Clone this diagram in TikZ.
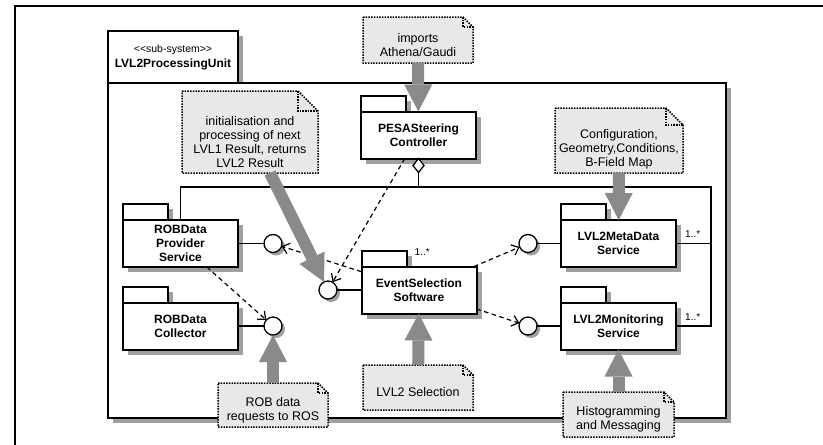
\documentclass[tikz,border=0pt]{standalone}
\usepackage{fontspec}
\setmainfont{Liberation Sans}
\usepackage{xcolor}
\usepackage{tikz}
\usetikzlibrary{arrows.meta,positioning,calc,shapes.geometric,shadows,backgrounds}

\definecolor{shgray}{HTML}{A0A0A0}
\definecolor{notegray}{HTML}{E8E8E8}
\definecolor{arrgray}{HTML}{8A8A8A}

% note with folded corner: name, fold, left, top, right, bottom, text
\newcommand{\umlnote}[7]{%
  \fill[notegray] (#3,#4) -- (#5-#2,#4) -- (#5,#4+#2) -- (#5,#6) -- (#3,#6) -- cycle;
  \draw[notedots] (#3,#4) -- (#5-#2,#4) -- (#5,#4+#2) -- (#5,#6) -- (#3,#6) -- cycle;
  \draw[notedots] (#5-#2,#4) -- (#5-#2,#4+#2) -- (#5,#4+#2);
  \node[minimum width={(#5-#3)*1pt},minimum height={(#6-#4)*1pt},inner sep=0pt,outer sep=0pt] (#1) at ({(#3+#5)/2},{(#4+#6)/2}) {};
  \node[notetext] at ($(#1.center)+(0,{#2/2})$) {#7};
}

\begin{document}
\begin{tikzpicture}[x=1pt,y=-1pt,>=Stealth]
\tikzstyle{pkg}=[draw,line width=2pt,fill=white,minimum width=115pt,minimum height=47pt,inner sep=0pt,outer sep=0pt,align=center,font=\bfseries\fontsize{12}{14}\selectfont,general shadow={fill=shgray,shadow xshift=5pt,shadow yshift=-5pt}]
\tikzstyle{pkgtab}=[draw,line width=2pt,fill=white,minimum width=45pt,minimum height=16pt,inner sep=0pt,outer sep=0pt,anchor=south west,general shadow={fill=shgray,shadow xshift=5pt,shadow yshift=-5pt}]
\tikzstyle{iface}=[circle,draw,line width=1.3pt,fill=white,minimum size=18pt,inner sep=0pt,outer sep=0pt,general shadow={fill=shgray,shadow xshift=3pt,shadow yshift=-3pt}]
\tikzstyle{agg}=[diamond,draw,line width=1.3pt,fill=white,minimum width=11pt,minimum height=14pt,inner sep=0pt,outer sep=0pt]
\tikzstyle{link}=[line width=1.3pt]
\tikzstyle{dep}=[line width=1.2pt,dash pattern=on 4.5pt off 3.5pt,-{Straight Barb[length=6.5pt,width=11pt]}]
\tikzstyle{feed}=[line width=12pt,draw=arrgray,-{Triangle[length=27pt,width=28pt,line width=0pt]}]
\tikzstyle{notedots}=[line width=1.5pt,dash pattern=on 1.5pt off 1.2pt]
\tikzstyle{notetext}=[inner sep=0pt,align=center,font=\fontsize{12.5}{13.8}\selectfont]
\tikzstyle{mult}=[inner sep=1pt,font=\fontsize{10}{12}\selectfont]
\useasboundingbox (0,0) rectangle (823,445);

% sub-system frame
\begin{scope}[on background layer]
\node[draw,line width=2pt,fill=white,minimum width=130pt,minimum height=52pt,inner sep=0pt,outer sep=0pt,align=center,font=\fontsize{12}{15}\selectfont,general shadow={fill=shgray,shadow xshift=5pt,shadow yshift=-5pt}] (systab) at (173,57) {{\fontsize{10.5}{15}\selectfont <\kern0pt<sub-system>\kern0pt>}\\\textbf{LVL2ProcessingUnit}};
\node[draw,line width=2pt,fill=white,minimum width=618pt,minimum height=335pt,inner sep=0pt,outer sep=0pt,general shadow={fill=shgray,shadow xshift=5pt,shadow yshift=-5pt}] (sys) at (417,250.5) {};
\end{scope}
\draw[line width=1.2pt] (15,445) -- (15,6) -- (823,6);

% packages
\node[pkg] (pesa) at (418.5,135) {PESASteering\\Controller};
\node[pkg] (robp) at (180.5,243.5) {ROBData\\Provider\\Service};
\node[pkg] (coll) at (180.5,326) {ROBData\\Collector};
\node[pkg] (evt) at (419,290) {EventSelection\\Software};
\node[pkg] (meta) at (618.5,243.5) {LVL2MetaData\\Service};
\node[pkg] (mon) at (618.5,326) {LVL2Monitoring\\Service};
\begin{scope}[on background layer]
\node[pkgtab] (pesatab) at (pesa.north west) {};
\node[pkgtab] (robptab) at (robp.north west) {};
\node[pkgtab] (colltab) at (coll.north west) {};
\node[pkgtab] (evttab) at (evt.north west) {};
\node[pkgtab] (metatab) at (meta.north west) {};
\node[pkgtab] (montab) at (mon.north west) {};
\end{scope}

% interfaces
\node[iface] (c1) at (273,243.5) {};
\node[iface] (c2) at (328,290) {};
\node[iface] (c3) at (528,243.5) {};
\node[iface] (c4) at (528,326) {};
\node[iface] (c5) at (273,326) {};
\draw[link] (robp) -- (c1);
\draw[link] (coll) -- (c5);
\draw[link] (c2) -- (evt);
\draw[link] (c3) -- (meta);
\draw[link] (c4) -- (mon);

% aggregation
\node[agg,anchor=north] (dia) at (pesa.south) {};
\coordinate (busr) at (711,187);
\draw[link] (dia) -- (dia |- busr);
\draw[link] (robp) |- (busr) -- (busr |- mon) -- (mon);
\draw[link] (meta) -- (meta -| busr);
\node[mult,anchor=west] (m1) at ($(evttab.north east)+(7,2)$) {1..*};
\node[mult,anchor=west] (m2) at ($(meta.east)+(8,-9)$) {1..*};
\node[mult,anchor=west] (m3) at ($(mon.east)+(8,-9)$) {1..*};

% dependencies
\draw[dep] (pesa) -- (c2);
\draw[dep] (evt) -- (c1);
\draw[dep] (evt) -- (c3);
\draw[dep] (evt) -- (c4);
\draw[dep] (robp) -- (c5);

% notes
\umlnote{imp}{10}{363}{17}{473}{63}{imports\\Athena/Gaudi}
\umlnote{init}{20}{182}{91}{318}{173}{initialisation and\\processing of next\\LVL1 Result, returns\\LVL2 Result}
\umlnote{cfg}{17}{555}{108}{683}{173}{Configuration,\\Geometry,Conditions,\\B-Field Map}
\umlnote{sel}{10}{363}{365}{473}{410}{LVL2 Selection}
\umlnote{ros}{10}{218}{383}{328}{427}{ROB data\\requests to ROS}
\umlnote{hist}{10}{563}{392}{674}{437}{Histogramming\\and Messaging}
\draw[feed] (imp) -- (pesa);
\draw[feed] ($(init.south)+(20,0)$) -- (c2);
\draw[feed] (cfg) -- (meta);
\draw[feed] (sel) -- (evt);
\draw[feed] (ros) -- (c5);
\draw[feed] (hist) -- (mon);
\end{tikzpicture}
\end{document}
